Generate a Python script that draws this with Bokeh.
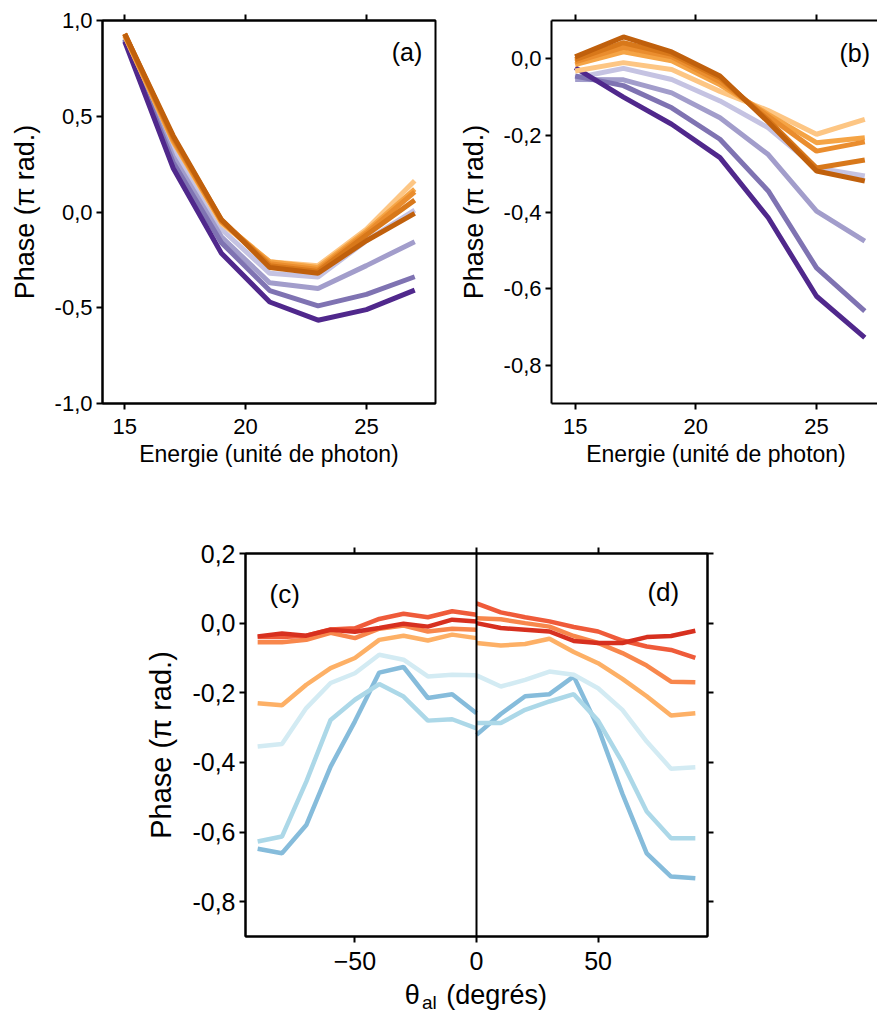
from bokeh.plotting import figure
from bokeh.models import FixedTicker, LinearAxis, Span, Label
from bokeh.layouts import column, row
from bokeh.embed import file_html
from bokeh.resources import INLINE

# ---------------- data ----------------
energy = [15, 17, 19, 21, 23, 25, 27]

a_purple = [
    [0.89, 0.23, -0.215, -0.47, -0.565, -0.51, -0.408],
    [0.90, 0.26, -0.16, -0.41, -0.49, -0.43, -0.338],
    [0.90, 0.29, -0.13, -0.37, -0.40, -0.28, -0.155],
    [0.91, 0.32, -0.09, -0.32, -0.34, -0.15, 0.01],
]
a_orange = [
    [0.93, 0.40, -0.04, -0.29, -0.32, -0.15, -0.007],
    [0.93, 0.39, -0.04, -0.28, -0.31, -0.12, 0.062],
    [0.93, 0.38, -0.05, -0.27, -0.30, -0.11, 0.105],
    [0.92, 0.37, -0.05, -0.26, -0.29, -0.10, 0.12],
    [0.92, 0.37, -0.06, -0.26, -0.28, -0.09, 0.163],
]
b_purple = [
    [-0.023, -0.100, -0.171, -0.258, -0.415, -0.62, -0.728],
    [-0.045, -0.070, -0.128, -0.21, -0.345, -0.546, -0.659],
    [-0.054, -0.055, -0.089, -0.154, -0.25, -0.398, -0.476],
    [-0.05, -0.025, -0.054, -0.11, -0.18, -0.285, -0.306],
]
b_orange = [
    [0.005, 0.057, 0.018, -0.045, -0.165, -0.293, -0.319],
    [-0.002, 0.042, 0.012, -0.05, -0.16, -0.285, -0.264],
    [-0.008, 0.03, 0.005, -0.06, -0.15, -0.241, -0.217],
    [-0.015, 0.018, -0.005, -0.068, -0.145, -0.219, -0.206],
    [-0.032, -0.01, -0.028, -0.085, -0.135, -0.197, -0.158],
]
purple_colors = ["#50288c", "#7f73b2", "#a29dcb", "#c5c3e2"]
orange_colors = ["#c0600c", "#d8781a", "#ea8d2e", "#f5a445", "#fdc684"]

angles_c = [-90, -80, -70, -60, -50, -40, -30, -20, -10, 0]
angles_d = [0, 10, 20, 30, 40, 50, 60, 70, 80, 90]

c_red = [
    [-0.038, -0.03, -0.036, -0.019, -0.025, -0.014, -0.002, -0.01, 0.01, 0.005],
    [-0.04, -0.04, -0.036, -0.018, -0.015, 0.012, 0.027, 0.017, 0.034, 0.024],
    [-0.055, -0.055, -0.048, -0.028, -0.043, -0.016, -0.007, -0.024, -0.016, -0.019],
    [-0.23, -0.236, -0.177, -0.129, -0.10, -0.048, -0.036, -0.05, -0.033, -0.043],
]
c_blue = [
    [-0.354, -0.347, -0.244, -0.172, -0.144, -0.091, -0.105, -0.153, -0.148, -0.15],
    [-0.627, -0.613, -0.455, -0.278, -0.22, -0.175, -0.211, -0.28, -0.276, -0.302],
    [-0.648, -0.661, -0.58, -0.412, -0.282, -0.142, -0.126, -0.215, -0.204, -0.259],
]
d_red = [
    [0.0, -0.014, -0.019, -0.024, -0.051, -0.057, -0.057, -0.04, -0.037, -0.022],
    [0.057, 0.031, 0.017, 0.005, -0.011, -0.024, -0.05, -0.067, -0.077, -0.1],
    [0.014, 0.011, 0.0, -0.01, -0.037, -0.057, -0.086, -0.122, -0.168, -0.17],
    [-0.057, -0.064, -0.06, -0.045, -0.083, -0.115, -0.16, -0.21, -0.265, -0.259],
]
d_blue = [
    [-0.15, -0.182, -0.163, -0.139, -0.148, -0.187, -0.249, -0.34, -0.418, -0.414],
    [-0.287, -0.287, -0.249, -0.225, -0.204, -0.28, -0.40, -0.541, -0.618, -0.618],
    [-0.321, -0.261, -0.21, -0.204, -0.153, -0.30, -0.49, -0.661, -0.728, -0.733],
]
red_colors = ["#d7301f", "#ef5b3a", "#f8874c", "#fdb066"]
blue_colors = ["#d3ebf3", "#acd8e8", "#86bcdb"]

a_yticks = [-1.0, -0.5, 0.0, 0.5, 1.0]
a_ylabels = ["-1,0", "-0,5", "0,0", "0,5", "1,0"]
b_yticks = [-0.8, -0.6, -0.4, -0.2, 0.0]
b_ylabels = ["-0,8", "-0,6", "-0,4", "-0,2", "0,0"]
c_yticks = [-0.8, -0.6, -0.4, -0.2, 0.0, 0.2]
c_ylabels = ["-0,8", "-0,6", "-0,4", "-0,2", "0,0", "0,2"]
e_xticks = [15, 20, 25]
t_xticks = [-50, 0, 50]

FONT = "Liberation Sans"


def style_axis(ax, ticks, labels, size, show_labels=True):
    ax.ticker = FixedTicker(ticks=ticks, minor_ticks=[])
    ax.axis_line_width = 2
    ax.axis_line_color = "black"
    ax.major_tick_line_width = 2
    ax.major_tick_line_color = "black"
    ax.major_tick_out = 6
    ax.major_tick_in = 0
    ax.minor_tick_out = 0
    ax.minor_tick_in = 0
    ax.axis_label_text_font_style = "normal"
    ax.axis_label_text_color = "black"
    ax.axis_label_text_font = FONT
    ax.major_label_text_font = FONT
    ax.major_label_text_font_size = f"{size}px"
    ax.major_label_text_color = "black"
    ax.major_label_standoff = 4
    if show_labels:
        if labels is not None:
            ax.major_label_overrides = {t: l for t, l in zip(ticks, labels)}
    else:
        ax.major_label_overrides = {t: "" for t in ticks}
        ax.major_label_standoff = 0


def base_fig(xr, yr, fw, fh, bl, br, bt, bb, outline=True):
    p = figure(frame_width=fw, frame_height=fh, x_range=xr, y_range=yr,
               output_backend="svg", toolbar_location=None,
               min_border_left=bl, min_border_right=br,
               min_border_top=bt, min_border_bottom=bb,
               x_axis_location=None, y_axis_location=None)
    p.grid.visible = False
    p.background_fill_color = "white"
    p.border_fill_color = "white"
    if outline:
        p.outline_line_color = "black"
        p.outline_line_width = 2
    else:
        p.outline_line_color = None
    return p


def energy_panel(purples, oranges, xr, yr, yt, yl, fw, bl, br, tag, tag_x, tag_y, right_axis):
    p = base_fig(xr, yr, fw, 383, bl, br, 20, 100, outline=right_axis)
    left = LinearAxis(axis_label="Phase (π rad.)")
    style_axis(left, yt, yl, 22)
    left.axis_label_text_font_size = "27px"
    left.axis_label_standoff = 12
    p.add_layout(left, "left")
    bottom = LinearAxis(axis_label="Energie (unité de photon)")
    style_axis(bottom, e_xticks, None, 22)
    bottom.major_label_standoff = 9
    bottom.axis_label_text_font_size = "23px"
    bottom.axis_label_standoff = 4
    p.add_layout(bottom, "below")
    top = LinearAxis(axis_label=None)
    style_axis(top, e_xticks, None, 10, show_labels=False)
    p.add_layout(top, "above")
    for vals, col in zip(reversed(purples), reversed(purple_colors)):
        p.line(energy, vals, line_color=col, line_width=5)
    for vals, col in zip(reversed(oranges), reversed(orange_colors)):
        p.line(energy, vals, line_color=col, line_width=5)
    p.add_layout(Label(x=tag_x, y=tag_y, text=tag, text_baseline="middle",
                       text_font=FONT, text_font_size="25px", text_color="black"))
    return p


pa = energy_panel(a_purple, a_orange, (14.08, 27.86), (-1.0, 1.0), a_yticks, a_ylabels,
                  333, 102, 20, "(a)", 26.05, 0.835, True)
pb = energy_panel(b_purple, b_orange, (14.02, 27.65), (-0.9, 0.1), b_yticks, b_ylabels,
                  329, 93, 0, "(b)", 25.95, 0.015, False)

# ---------------- panel (c)/(d) ----------------
pc = base_fig((-95, 95), (-0.9, 0.2), 462, 383, 245, 20, 50, 40, outline=True)
lc = LinearAxis(axis_label="Phase (π rad.)")
style_axis(lc, c_yticks, c_ylabels, 25)
lc.axis_label_text_font_size = "29px"
lc.axis_label_standoff = 12
pc.add_layout(lc, "left")
rc = LinearAxis(axis_label=None)
style_axis(rc, c_yticks, None, 10, show_labels=False)
pc.add_layout(rc, "right")
bc = LinearAxis(axis_label=None)
style_axis(bc, t_xticks, None, 25)
bc.major_label_standoff = 9
pc.add_layout(bc, "below")
tc = LinearAxis(axis_label=None)
style_axis(tc, t_xticks, None, 10, show_labels=False)
pc.add_layout(tc, "above")

for vals, col in zip(reversed(c_blue), reversed(blue_colors)):
    pc.line(angles_c, vals, line_color=col, line_width=4.5)
for vals, col in zip(reversed(d_blue), reversed(blue_colors)):
    pc.line(angles_d, vals, line_color=col, line_width=4.5)
for vals, col in zip(reversed(c_red), reversed(red_colors)):
    pc.line(angles_c, vals, line_color=col, line_width=4.5)
for vals, col in zip(reversed(d_red), reversed(red_colors)):
    pc.line(angles_d, vals, line_color=col, line_width=4.5)

pc.add_layout(Span(location=0, dimension="height", line_color="black", line_width=2))
pc.add_layout(Label(x=-85.1, y=0.085, text="(c)", text_baseline="middle",
                    text_font=FONT, text_font_size="26px", text_color="black"))
pc.add_layout(Label(x=70.3, y=0.088, text="(d)", text_baseline="middle",
                    text_font=FONT, text_font_size="26px", text_color="black"))

# strip below panel (c)/(d) holding the x-axis title with its subscript
pt = base_fig((-95, 95), (0, 36), 462, 36, 245, 20, 0, 0, outline=False)
pt.add_layout(Label(x=-29.5, y=18, text="θ", text_baseline="alphabetic",
                    text_font=FONT, text_font_size="27px", text_color="black"))
pt.add_layout(Label(x=-22.4, y=10, text="al", text_baseline="alphabetic",
                    text_font=FONT, text_font_size="19px", text_color="black"))
pt.add_layout(Label(x=-12.4, y=18, text="(degrés)", text_baseline="alphabetic",
                    text_font=FONT, text_font_size="27px", text_color="black"))

layout = column(row(pa, pb), pc, pt)
open("out.html", "w").write(file_html(layout, INLINE))
